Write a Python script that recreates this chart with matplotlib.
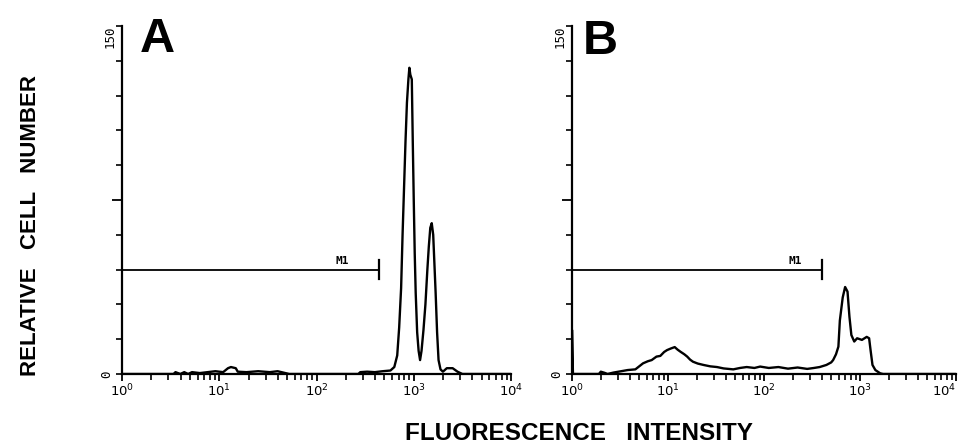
import numpy as np
import matplotlib
matplotlib.use("Agg")
import matplotlib.pyplot as plt
from matplotlib.ticker import FixedLocator, NullFormatter

# Panel A histogram (log10 of fluorescence, relative cell number)
a_log = [0.00, 0.53, 0.55, 0.60, 0.64, 0.68, 0.72, 0.80, 0.88, 0.96, 1.04, 1.09, 1.12,
         1.17, 1.19, 1.28, 1.40, 1.52, 1.60, 1.66, 1.72, 2.43, 2.45, 2.52, 2.60, 2.68,
         2.76, 2.80, 2.83, 2.85, 2.87, 2.885, 2.90, 2.915, 2.93, 2.945, 2.955,
         2.965, 2.98, 2.99, 3.00, 3.01, 3.02, 3.035, 3.05, 3.065, 3.08, 3.10,
         3.12, 3.14, 3.155, 3.17, 3.185, 3.20, 3.21, 3.225, 3.24, 3.255, 3.275,
         3.30, 3.34, 3.40, 3.45, 3.50, 4.00]
a_cnt = [0, 0, 0.8, 0, 0.8, 0, 0.8, 0.4, 0.8, 1.2, 0.8, 2.5, 3.0,
         2.5, 1.0, 0.8, 1.2, 0.8, 1.2, 0.6, 0, 0, 0.8, 1.0, 0.8, 1.2,
         1.5, 3, 8, 20, 37, 60, 80, 100, 117, 127, 132,
         129, 127, 100, 75, 52, 35, 18, 10, 6, 10, 19,
         30, 45, 55, 63, 65, 60, 50, 35, 18, 6, 2,
         1, 2.5, 2.5, 1, 0, 0]

# Panel B histogram
b_log = [0.00, 0.00, 0.01, 0.28, 0.30, 0.34, 0.37, 0.43, 0.58, 0.66, 0.74, 0.79,
         0.83, 0.88, 0.92, 0.96, 0.99, 1.03, 1.07, 1.10, 1.13, 1.17, 1.20, 1.23,
         1.26, 1.31, 1.37, 1.44, 1.51, 1.58, 1.68, 1.75, 1.82, 1.90, 1.96, 2.05,
         2.15, 2.25, 2.35, 2.45, 2.52, 2.58, 2.65, 2.70, 2.72, 2.75, 2.775, 2.79,
         2.82, 2.845, 2.87, 2.89, 2.91, 2.94, 2.97, 3.02, 3.07, 3.095, 3.11, 3.13,
         3.16, 3.21, 3.24, 4.00]
b_cnt = [0, 19, 0, 0, 1.0, 0.5, 0, 0.6, 1.7, 2.0, 4.6, 5.5,
         6.0, 7.5, 7.8, 9.5, 10.3, 11.0, 11.6, 10.5, 9.6, 8.5, 7.5, 6.2,
         5.3, 4.5, 3.9, 3.3, 3.0, 2.4, 2.0, 2.6, 3.0, 2.6, 3.2, 2.6,
         3.0, 2.3, 2.8, 2.2, 2.6, 3.0, 3.9, 5.0, 6.0, 8.5, 11.8, 23,
         33, 37.5, 35.5, 24.7, 16.8, 14.0, 15.4, 14.7, 16.0, 15.4, 10.3, 3.9,
         1.7, 0.3, 0, 0]

# M1 marker gates (upper end of gate, height)
m1_end = {"A": 440, "B": 400}
m1_label_x = {"A": 185, "B": 210}
m1_level = 45

decades = [1, 10, 100, 1000, 10000]
decade_labels = [r"$10^0$", r"$10^1$", r"$10^2$", r"$10^3$", r"$10^4$"]

plt.rcParams["mathtext.fontset"] = "dejavusans"

fig = plt.figure(figsize=(9.58, 4.46), dpi=100)
W, H = 958, 446


def axes_px(left, right, top, bottom):
    return fig.add_axes([left / W, 1 - bottom / H, (right - left) / W, (bottom - top) / H])


ax_a = axes_px(122, 511, 26, 374)
ax_b = axes_px(572, 956, 26, 374)

panels = [(ax_a, a_log, a_cnt, "A"), (ax_b, b_log, b_cnt, "B")]

for ax, lx, cnt, name in panels:
    ax.plot(10 ** np.array(lx), cnt, color="black", lw=1.7)
    ax.set_xscale("log")
    ax.set_xlim(1, 1e4)
    ax.set_ylim(0, 150)
    for s in ["top", "right"]:
        ax.spines[s].set_visible(False)
    for s in ["left", "bottom"]:
        ax.spines[s].set_linewidth(1.6)

    ax.xaxis.set_major_locator(FixedLocator(decades))
    ax.set_xticklabels(decade_labels, fontsize=9.5, fontweight="bold")
    minor = [m * d for d in decades[:-1] for m in range(2, 10)]
    ax.xaxis.set_minor_locator(FixedLocator(minor))
    ax.xaxis.set_minor_formatter(NullFormatter())
    ax.tick_params(axis="x", which="major", direction="out", length=5, width=1.3, pad=1)
    ax.tick_params(axis="x", which="minor", direction="out", length=4, width=1.2)

    ax.yaxis.set_major_locator(FixedLocator([75]))
    ax.yaxis.set_minor_locator(FixedLocator(list(range(0, 151, 15))))
    ax.yaxis.set_major_formatter(NullFormatter())
    ax.yaxis.set_minor_formatter(NullFormatter())
    ax.tick_params(axis="y", which="major", direction="out", length=7, width=1.3)
    ax.tick_params(axis="y", which="minor", direction="out", length=4, width=1.2)

    ax.text(-0.032, 1.0, "150", transform=ax.transAxes, rotation=90,
            ha="center", va="top", fontsize=9, family="DejaVu Sans Mono")
    ax.text(-0.04, 0.0, "0", transform=ax.transAxes, rotation=90,
            ha="center", va="center", fontsize=9, family="DejaVu Sans Mono")

    # M1 gate
    end = m1_end[name]
    ax.plot([1, end], [m1_level, m1_level], color="black", lw=1.3, clip_on=False)
    ax.plot([end, end], [m1_level - 4, m1_level + 4], color="black", lw=1.6, clip_on=False)
    ax.text(m1_label_x[name], m1_level + 1.5, "M1", ha="center", va="bottom",
            fontsize=8, family="DejaVu Sans Mono", fontweight="bold")

# last decade label of panel B sits at the right edge of the figure
ax_b.get_xticklabels()[-1].set_horizontalalignment("right")

fig.text(157 / W, 1 - 40 / H, "A", ha="center", va="center", fontsize=35,
         fontweight="heavy", family="Liberation Sans")
fig.text(600 / W, 1 - 41 / H, "B", ha="center", va="center", fontsize=35,
         fontweight="heavy", family="Liberation Sans")

fig.text(31 / W, 1 - 225 / H, "RELATIVE   CELL   NUMBER", rotation=90, ha="center",
         va="center", fontsize=16, fontweight="bold", family="Liberation Sans")
fig.text(579 / W, 1 - 434 / H, "FLUORESCENCE   INTENSITY", ha="center",
         va="center", fontsize=17.5, fontweight="bold", family="Liberation Sans")

fig.savefig("out.png", dpi=100)
